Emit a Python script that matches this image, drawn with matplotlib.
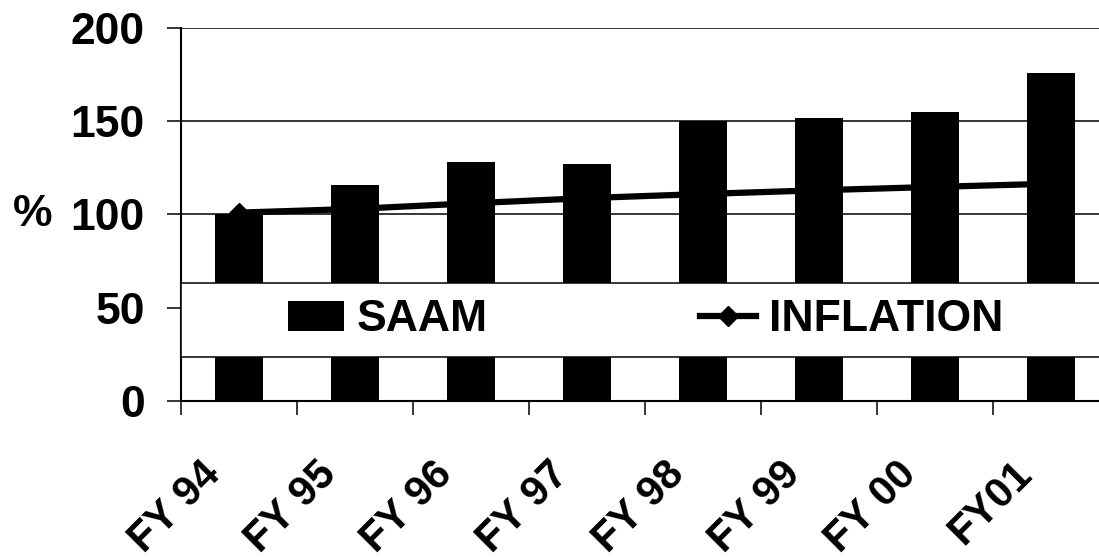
import matplotlib
matplotlib.use("Agg")
import matplotlib.pyplot as plt
import matplotlib.transforms as mtransforms
from matplotlib.patches import Rectangle
import numpy as np

# ---- data ----
categories = ["FY 94", "FY 95", "FY 96", "FY 97", "FY 98", "FY 99", "FY 00", "FY01"]
saam = [100, 116, 128, 127, 150, 152, 155, 176]
inflation = [101, 103, 106, 108.8, 111, 113, 114.8, 116.5]
yticks = [0, 50, 100, 150, 200]

plt.rcParams["font.family"] = ["Liberation Sans", "DejaVu Sans"]
plt.rcParams["font.weight"] = "bold"

FS = 32
XFS = 30
W, H = 1099, 559
fig = plt.figure(figsize=(W / 100, H / 100), dpi=100)
ax = fig.add_axes([181 / W, (H - 401) / H, 928 / W, 373 / H])

x = np.arange(len(categories))
line, = ax.plot(x, inflation, color="black", lw=4.5, marker="D", ms=10,
                zorder=2, label="INFLATION")
bars = ax.bar(x, saam, width=0.41, color="black", zorder=3, label="SAAM")

ax.set_xlim(-0.5, len(categories) - 0.5)
ax.set_ylim(0, 200)
ax.set_yticks(yticks)
ax.set_yticklabels([str(v) for v in yticks], fontsize=FS, fontweight="bold")
ax.yaxis.grid(True, color="black", lw=1.1, zorder=0)
ax.set_axisbelow(True)

for s in ["top", "right"]:
    ax.spines[s].set_visible(False)
ax.spines["left"].set_linewidth(1.5)
ax.spines["bottom"].set_linewidth(1.5)

ax.tick_params(axis="y", direction="out", length=10, width=1.1, pad=16)

# x: labels at centres, ticks at boundaries
ax.set_xticks(x)
ax.set_xticklabels(categories, fontsize=XFS, fontweight="bold", rotation=45,
                   ha="right", va="top", rotation_mode="anchor")
ax.tick_params(axis="x", which="major", length=0, pad=38)
ax.set_xticks(np.arange(-0.5, len(categories), 1), minor=True)
ax.tick_params(axis="x", which="minor", direction="out", length=10, width=1.1)
off = mtransforms.ScaledTranslation(-39 / 100, 0, fig.dpi_scale_trans)
for lab in ax.get_xticklabels():
    lab.set_transform(lab.get_transform() + off)

ax.set_ylabel("%", fontsize=FS, fontweight="bold", rotation=0, ha="center", va="center")
ax.yaxis.set_label_coords((33 - 181) / 928, 0.5)

# legend band
ybot, ytop = 23.6, 63.3
band = Rectangle((0, ybot), 1.2, ytop - ybot, transform=ax.get_yaxis_transform(),
                 facecolor="white", edgecolor="black", lw=1.1, zorder=5, clip_on=False)
ax.add_patch(band)
leg = ax.legend(handles=[bars, line], labels=["SAAM", "INFLATION"],
                loc="center left", bbox_to_anchor=((288 - 181) / 928, (ybot + ytop) / 2 / 200),
                frameon=False, ncol=2, handlelength=1.26, handleheight=0.68,
                handletextpad=0.29, columnspacing=4.77, borderpad=0, borderaxespad=0,
                prop={"weight": "bold", "size": FS})
leg.set_zorder(6)

fig.savefig("out.png", dpi=100)
